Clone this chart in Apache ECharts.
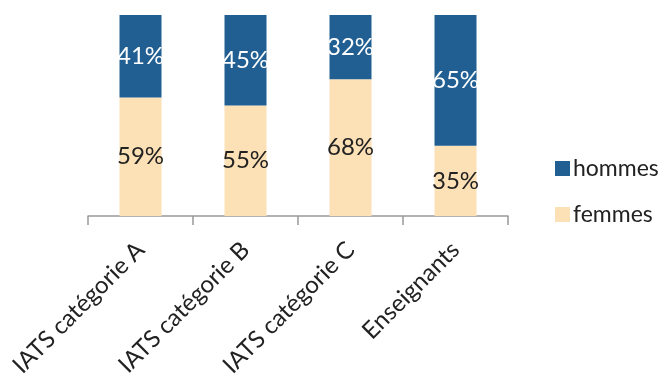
<!DOCTYPE html>
<html><head><meta charset="utf-8">
<script src="https://cdn.jsdelivr.net/npm/echarts@6/dist/echarts.min.js"></script>
<style>html,body{margin:0;padding:0;background:#fff}#c{width:667px;height:374px}</style>
</head><body><div id="c"></div>
<script>
const categories = ['IATS catégorie A', 'IATS catégorie B', 'IATS catégorie C', 'Enseignants'];
const femmes = [59, 55, 68, 35];
const hommes = [41, 45, 32, 65];

const FONT = 'Lato';
const chart = echarts.init(document.getElementById('c'), null, {renderer: 'canvas'});
chart.setOption({
  animation: false,
  grid: {left: 88, right: 159, top: 15, bottom: 158, containLabel: false, outerBoundsMode: 'none'},
  legend: {
    orient: 'vertical', left: 550, top: 152, itemGap: 23,
    itemWidth: 15, itemHeight: 15, icon: 'rect',
    data: ['hommes', 'femmes'],
    textStyle: {fontFamily: FONT, fontSize: 23, color: '#222', padding: [0,0,0,-2]}
  },
  xAxis: {
    type: 'category', data: categories,
    axisLine: {lineStyle: {color: '#999', width: 1.5}},
    axisTick: {show: true, length: 9, lineStyle: {color: '#999', width: 1.5}},
    axisLabel: {rotate: 45, margin: 30, fontFamily: FONT, fontSize: 24, color: '#222', interval: 0}
  },
  yAxis: {type: 'value', min: 0, max: 100, show: false, splitLine: {show: false}},
  series: [
    {name: 'femmes', type: 'bar', stack: 't', data: femmes, barWidth: '40%',
     itemStyle: {color: '#FCE0B6'},
     label: {show: true, position: 'inside', formatter: '{c}%', fontFamily: FONT, fontSize: 24, color: '#222'}},
    {name: 'hommes', type: 'bar', stack: 't', data: hommes, barWidth: '40%',
     itemStyle: {color: '#215F92'},
     label: {show: true, position: 'inside', formatter: '{c}%', fontFamily: FONT, fontSize: 24, color: '#fff'}}
  ]
});
</script></body></html>
